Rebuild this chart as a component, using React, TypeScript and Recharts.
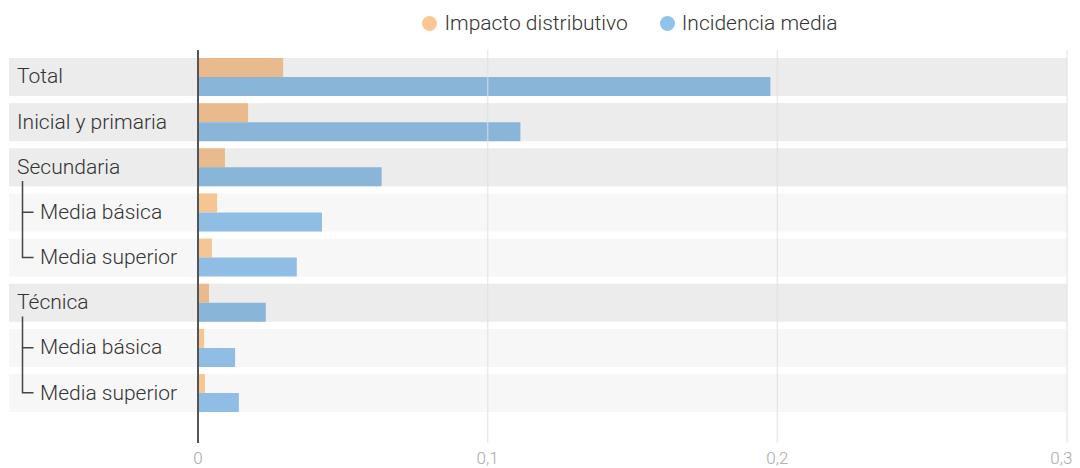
import React from "react";
import { BarChart, Bar, XAxis, YAxis, Legend, ReferenceLine, Cell } from "recharts";

const categories = [
  "Total",
  "Inicial y primaria",
  "Secundaria",
  "Media básica",
  "Media superior",
  "Técnica",
  "Media básica",
  "Media superior",
];
// 0 = top level row, 1 = child row
const levels = [0, 0, 0, 1, 1, 0, 1, 1];
const impacto = [0.0294, 0.0173, 0.0093, 0.0066, 0.0048, 0.0038, 0.0021, 0.0024];
const incidencia = [0.1976, 0.1113, 0.0634, 0.0428, 0.0341, 0.0234, 0.0128, 0.0141];
const xTicks = [0, 0.1, 0.2, 0.3];
const gridTicks = [0.1, 0.2, 0.3];

const chartData = categories.map((name, i) => ({
  name,
  impacto: impacto[i],
  incidencia: incidencia[i],
}));

const ORANGE = { legend: "#fcc792", dark: "#e9ba8b", light: "#f5c594" };
const BLUE = { legend: "#90c3ec", dark: "#89b5d8", light: "#8fbde3" };
const BAND_DARK = "#ececec";
const BAND_LIGHT = "#f7f7f7";
const PAD_TOP = 4.2;
const PAD_BOTTOM = 27.6;

const RowBand = (props: any) => {
  const { x, y, width, height, index } = props;
  return (
    <rect
      x={1}
      y={y}
      width={x + width - 1}
      height={height * 2}
      fill={levels[index] === 0 ? BAND_DARK : BAND_LIGHT}
    />
  );
};

const CategoryTick = (props: any) => {
  const { y, payload, height } = props;
  const i = payload.index;
  let pitch = payload.offset > 5 ? payload.offset * 2 : 0;
  if (!pitch && height) pitch = (height - PAD_TOP - PAD_BOTTOM) / categories.length;
  if (!pitch) pitch = 45.15;
  const lvl = levels[i];
  let connector = null;
  if (lvl === 1) {
    const y0 = levels[i - 1] === 0 ? y - pitch + 14 : y - pitch;
    connector = (
      <path d={`M14.5,${y0}V${y}H25.5`} stroke="#444" strokeWidth={1.5} fill="none" />
    );
  }
  return (
    <g>
      {connector}
      <text
        x={lvl === 0 ? 9 : 32}
        y={y}
        dy="0.32em"
        textAnchor="start"
        fill="#333"
        fontSize={21}
        fontWeight={300}
      >
        {payload.value}
      </text>
    </g>
  );
};

const LegendContent = () => (
  <div style={{ height: 42, boxSizing: "border-box", paddingLeft: 185 }}>
    <div
      style={{
        height: 31,
        display: "flex",
        alignItems: "center",
        justifyContent: "center",
        fontSize: 21,
        fontWeight: 300,
        color: "#333",
        lineHeight: "21px",
      }}
    >
      {[
        { label: "Impacto distributivo", color: ORANGE.legend },
        { label: "Incidencia media", color: BLUE.legend },
      ].map((item, i) => (
        <div
          key={item.label}
          style={{ display: "flex", alignItems: "center", marginLeft: i ? 32 : 0 }}
        >
          <span
            style={{
              width: 15,
              height: 15,
              borderRadius: "50%",
              background: item.color,
              marginRight: 7,
              display: "inline-block",
            }}
          />
          <span>{item.label}</span>
        </div>
      ))}
    </div>
  </div>
);

export default function App() {
  return (
    <div style={{ fontFamily: "Roboto, 'Noto Sans', sans-serif", fontWeight: 300 }}>
      <BarChart
        width={1064}
        height={460}
        data={chartData}
        layout="vertical"
        margin={{ top: 0, right: 5, bottom: 0, left: 0 }}
        barCategoryGap={3.8}
        barGap={0}
      >
        <Legend verticalAlign="top" align="left" content={<LegendContent />} />
        <XAxis
          type="number"
          domain={[0, 0.3]}
          ticks={xTicks}
          tickFormatter={(v: number) => String(v).replace(".", ",")}
          axisLine={false}
          tickLine={false}
          tick={{ fill: "#a8a8a8", fontSize: 17, fontWeight: 300 }}
          tickMargin={3}
          height={25}
        />
        <YAxis
          type="category"
          dataKey="name"
          width={190}
          interval={0}
          axisLine={{ stroke: "#555", strokeWidth: 2 }}
          tickLine={false}
          tick={<CategoryTick />}
          padding={{ top: PAD_TOP, bottom: PAD_BOTTOM }}
        />
        <Bar dataKey="impacto" isAnimationActive={false} background={RowBand}>
          {chartData.map((_, i) => (
            <Cell key={i} fill={levels[i] === 0 ? ORANGE.dark : ORANGE.light} />
          ))}
        </Bar>
        <Bar dataKey="incidencia" isAnimationActive={false}>
          {chartData.map((_, i) => (
            <Cell key={i} fill={levels[i] === 0 ? BLUE.dark : BLUE.light} />
          ))}
        </Bar>
        {gridTicks.map((t) => (
          <ReferenceLine
            key={t}
            x={t}
            stroke="#e0e0e0"
            strokeOpacity={0.65}
            strokeWidth={1.5}
          />
        ))}
      </BarChart>
    </div>
  );
}
